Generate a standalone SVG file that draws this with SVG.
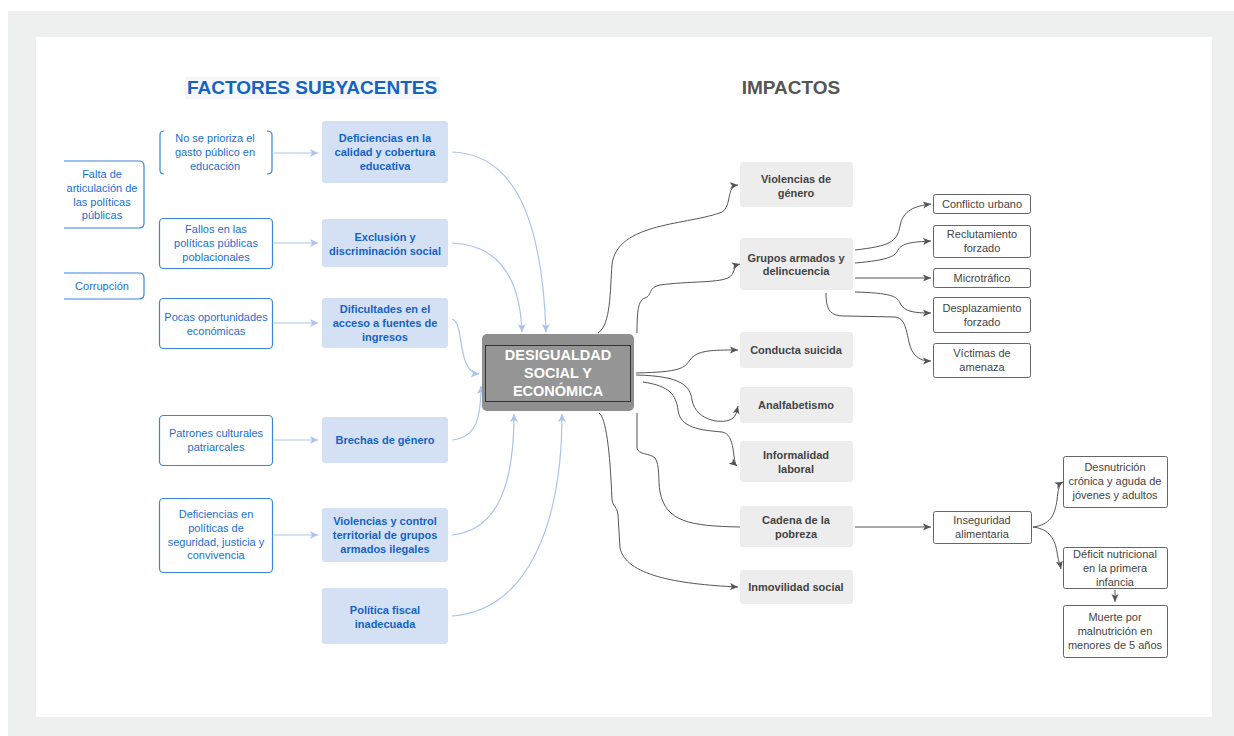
<svg xmlns="http://www.w3.org/2000/svg" width="1234" height="736" viewBox="0 0 1234 736">
<style>
text{font-family:"Liberation Sans",Arial,sans-serif;font-size:11px;text-anchor:middle}
.bt{fill:#1a6fd3}
.bb{fill:#1463c4;font-weight:bold}
.gb{fill:#444;font-weight:bold}
.gt{fill:#444}
.ob{fill:#fff;stroke:#3a84dc;stroke-width:1.2}
.mb{fill:#d4e1f5}
.ib{fill:#ededed}
.sb{fill:#fff;stroke:#666;stroke-width:1}
.bl{fill:none;stroke:#a9c5ee;stroke-width:1.2}
.dl{fill:none;stroke:#555;stroke-width:1}
.title{font-size:19px;font-weight:bold}
.ct{fill:#fff;font-weight:bold;font-size:14.5px}
</style>
<defs>
<marker id="ab" markerUnits="userSpaceOnUse" markerWidth="10" markerHeight="10" refX="8" refY="5" orient="auto">
<path d="M0,1 L8,5 L0,9 L2,5 Z" fill="#a9c5ee"/>
</marker>
<marker id="ad" markerUnits="userSpaceOnUse" markerWidth="10" markerHeight="10" refX="8" refY="5" orient="auto">
<path d="M0,1.5 L8,5 L0,8.5 L2,5 Z" fill="#555"/>
</marker>
</defs>
<rect x="8" y="11" width="1226" height="725" fill="#eef0ef"/>
<rect x="36" y="37" width="1176" height="680" fill="#fff"/>

<g id="titles">
<rect x="185" y="77" width="255" height="22" fill="#f5f7fb"/>
<text x="312" y="94" class="title" fill="#1463c4">FACTORES SUBYACENTES</text>
<text x="791" y="94" class="title" fill="#555">IMPACTOS</text>
</g>

<g id="connectors">
<path class="bl" d="M274,153 L318,153" marker-end="url(#ab)"/>
<path class="bl" d="M274,243 L318,243" marker-end="url(#ab)"/>
<path class="bl" d="M274,323 L318,323" marker-end="url(#ab)"/>
<path class="bl" d="M274,440 L318,440" marker-end="url(#ab)"/>
<path class="bl" d="M274,535 L318,535" marker-end="url(#ab)"/>
<path class="bl" d="M452,152 C515,154 542,220 546,332" marker-end="url(#ab)"/>
<path class="bl" d="M452,243 C500,245 520,280 522,332" marker-end="url(#ab)"/>
<path class="bl" d="M452,319 C465,322 456,372 479,374" marker-end="url(#ab)"/>
<path class="bl" d="M452,440 C475,438 481,420 481,386" marker-end="url(#ab)"/>
<path class="bl" d="M452,535 C500,530 514,480 514,414" marker-end="url(#ab)"/>
<path class="bl" d="M452,616 C530,610 562,520 562,414" marker-end="url(#ab)"/>

<path class="dl" d="M598,333 C611,325 610,290 612,265 C616,222 690,225 722,212 C732,206 726,186 738,185" marker-end="url(#ad)"/>
<path class="dl" d="M637,333 C637,312 638,300 645,298 C652,296 648,287 660,285 C690,281 716,283 728,278 C736,274 732,266 740,264" marker-end="url(#ad)"/>
<path class="dl" d="M636,373 C682,372 684,368 690,360 C697,350 712,350 738,350" marker-end="url(#ad)"/>
<path class="dl" d="M636,375 C682,376 690,386 692,400 C696,422 725,425 733,418 C737,414 737,410 738,406" marker-end="url(#ad)"/>
<path class="dl" d="M643,382 C670,386 676,395 678,410 C680,428 700,430 722,432 C736,434 732,462 737,466" marker-end="url(#ad)"/>
<path class="dl" d="M637,413 L637,448 C638,455 650,453 655,458 C660,465 658,480 660,492 C666,522 690,526 740,527"/>
<path class="dl" d="M599,413 C606,418 610,450 612,500 C613,507 617,506 618,515 L620,548 C626,575 675,584 738,587" marker-end="url(#ad)"/>

<path class="dl" d="M855,250 C890,246 897,242 900,226 C903,210 915,206 931,204" marker-end="url(#ad)"/>
<path class="dl" d="M855,263 C890,260 895,256 898,250 C902,243 912,242 931,241" marker-end="url(#ad)"/>
<path class="dl" d="M855,278 L931,278" marker-end="url(#ad)"/>
<path class="dl" d="M855,292 C890,293 897,296 900,303 C904,312 915,313 931,313" marker-end="url(#ad)"/>
<path class="dl" d="M826,293 C826,310 830,316 845,316 L895,317 C910,318 905,345 915,355 C920,360 925,361 931,361" marker-end="url(#ad)"/>
<path class="dl" d="M855,527 L931,527" marker-end="url(#ad)"/>
<path class="dl" d="M1033,527 C1050,525 1055,515 1057,500 C1058,490 1059,484 1063,482" marker-end="url(#ad)"/>
<path class="dl" d="M1033,527 C1050,529 1055,540 1057,552 C1058,560 1060,564 1061,569" marker-end="url(#ad)"/>
<path class="dl" d="M1115,590 L1115,602" marker-end="url(#ad)"/>
</g>

<g id="n-falta">
<path class="ob" d="M64,161 L139,161 Q144,161 144,166 L144,223 Q144,228 139,228 L64,228"/>
<text class="bt" x="102" y="178">Falta de</text>
<text class="bt" x="102" y="192">articulación de</text>
<text class="bt" x="102" y="206">las políticas</text>
<text class="bt" x="102" y="219">públicas</text>
</g>
<g id="n-corrupcion">
<path class="ob" d="M64,273 L139,273 Q144,273 144,278 L144,294 Q144,299 139,299 L64,299"/>
<text class="bt" x="102" y="290">Corrupción</text>
</g>
<g id="n-noprioriza">
<path class="ob" d="M164,131 Q160,131 160,135 L160,170 Q160,174 164,174"/>
<path class="ob" d="M267,131 Q272,131 272,135 L272,170 Q272,174 267,174"/>
<text class="bt" x="215" y="142">No se prioriza el</text>
<text class="bt" x="215" y="156">gasto público en</text>
<text class="bt" x="215" y="170">educación</text>
</g>
<g id="n-fallos">
<rect class="ob" x="159.5" y="218.5" width="113" height="50" rx="4"/>
<text class="bt" x="216" y="233">Fallos en las</text>
<text class="bt" x="216" y="247">políticas públicas</text>
<text class="bt" x="216" y="261">poblacionales</text>
</g>
<g id="n-pocas">
<rect class="ob" x="159.5" y="298.5" width="113" height="50" rx="4"/>
<text class="bt" x="216" y="321">Pocas oportunidades</text>
<text class="bt" x="216" y="335">económicas</text>
</g>
<g id="n-patrones">
<rect class="ob" x="159.5" y="415.5" width="113" height="50" rx="4"/>
<text class="bt" x="216" y="437">Patrones culturales</text>
<text class="bt" x="216" y="451">patriarcales</text>
</g>
<g id="n-defseg">
<rect class="ob" x="159.5" y="498.5" width="113" height="74" rx="4"/>
<text class="bt" x="216" y="518">Deficiencias en</text>
<text class="bt" x="216" y="532">políticas de</text>
<text class="bt" x="216" y="546">seguridad, justicia y</text>
<text class="bt" x="216" y="559">convivencia</text>
</g>

<g id="m-deficiencias">
<rect class="mb" x="322" y="121" width="126" height="62" rx="3"/>
<text class="bb" x="385" y="142">Deficiencias en la</text>
<text class="bb" x="385" y="156">calidad y cobertura</text>
<text class="bb" x="385" y="170">educativa</text>
</g>
<g id="m-exclusion">
<rect class="mb" x="322" y="219" width="126" height="48" rx="3"/>
<text class="bb" x="385" y="241">Exclusión y</text>
<text class="bb" x="385" y="255">discriminación social</text>
</g>
<g id="m-dificultades">
<rect class="mb" x="322" y="298" width="126" height="50" rx="3"/>
<text class="bb" x="385" y="313">Dificultades en el</text>
<text class="bb" x="385" y="327">acceso a fuentes de</text>
<text class="bb" x="385" y="341">ingresos</text>
</g>
<g id="m-brechas">
<rect class="mb" x="322" y="417" width="126" height="46" rx="3"/>
<text class="bb" x="385" y="444">Brechas de género</text>
</g>
<g id="m-violencias">
<rect class="mb" x="322" y="508" width="126" height="54" rx="3"/>
<text class="bb" x="385" y="525">Violencias y control</text>
<text class="bb" x="385" y="539">territorial de grupos</text>
<text class="bb" x="385" y="553">armados ilegales</text>
</g>
<g id="m-fiscal">
<rect class="mb" x="322" y="588" width="126" height="56" rx="3"/>
<text class="bb" x="385" y="614">Política fiscal</text>
<text class="bb" x="385" y="628">inadecuada</text>
</g>

<g id="center">
<rect x="482" y="334" width="152" height="77" rx="5" fill="#8f8f8f"/>
<rect x="485.5" y="345.5" width="145" height="56" fill="#959595" stroke="#333" stroke-width="1"/>
<text class="ct" x="558" y="360">DESIGUALDAD</text>
<text class="ct" x="558" y="378">SOCIAL Y</text>
<text class="ct" x="558" y="396">ECONÓMICA</text>
</g>

<g id="i-violencias">
<rect class="ib" x="740" y="162" width="113" height="45" rx="3"/>
<text class="gb" x="796" y="183">Violencias de</text>
<text class="gb" x="796" y="197">género</text>
</g>
<g id="i-grupos">
<rect class="ib" x="740" y="238" width="113" height="52" rx="3"/>
<text class="gb" x="796" y="262">Grupos armados y</text>
<text class="gb" x="796" y="275">delincuencia</text>
</g>
<g id="i-conducta">
<rect class="ib" x="740" y="332" width="113" height="36" rx="3"/>
<text class="gb" x="796" y="354">Conducta suicida</text>
</g>
<g id="i-analfabetismo">
<rect class="ib" x="740" y="387" width="113" height="36" rx="3"/>
<text class="gb" x="796" y="409">Analfabetismo</text>
</g>
<g id="i-informalidad">
<rect class="ib" x="740" y="441" width="113" height="41" rx="3"/>
<text class="gb" x="796" y="459">Informalidad</text>
<text class="gb" x="796" y="473">laboral</text>
</g>
<g id="i-cadena">
<rect class="ib" x="740" y="506" width="113" height="41" rx="3"/>
<text class="gb" x="796" y="524">Cadena de la</text>
<text class="gb" x="796" y="538">pobreza</text>
</g>
<g id="i-inmovilidad">
<rect class="ib" x="740" y="570" width="113" height="34" rx="3"/>
<text class="gb" x="796" y="591">Inmovilidad social</text>
</g>

<g id="s-conflicto">
<rect class="sb" x="933.5" y="194.5" width="97" height="19" rx="2"/>
<text class="gt" x="982" y="208">Conflicto urbano</text>
</g>
<g id="s-reclutamiento">
<rect class="sb" x="933.5" y="225.5" width="97" height="32" rx="2"/>
<text class="gt" x="982" y="238">Reclutamiento</text>
<text class="gt" x="982" y="252">forzado</text>
</g>
<g id="s-microtrafico">
<rect class="sb" x="933.5" y="268.5" width="97" height="19" rx="2"/>
<text class="gt" x="982" y="282">Microtráfico</text>
</g>
<g id="s-desplazamiento">
<rect class="sb" x="933.5" y="297.5" width="97" height="35" rx="2"/>
<text class="gt" x="982" y="312">Desplazamiento</text>
<text class="gt" x="982" y="326">forzado</text>
</g>
<g id="s-victimas">
<rect class="sb" x="933.5" y="343.5" width="97" height="34" rx="2"/>
<text class="gt" x="982" y="357">Víctimas de</text>
<text class="gt" x="982" y="371">amenaza</text>
</g>
<g id="s-inseguridad">
<rect class="sb" x="933.5" y="511.5" width="98" height="32" rx="2"/>
<text class="gt" x="982" y="524">Inseguridad</text>
<text class="gt" x="982" y="538">alimentaria</text>
</g>
<g id="s-desnutricion">
<rect class="sb" x="1063.5" y="456.5" width="104" height="51" rx="2"/>
<text class="gt" x="1115" y="471">Desnutrición</text>
<text class="gt" x="1115" y="485">crónica y aguda de</text>
<text class="gt" x="1115" y="499">jóvenes y adultos</text>
</g>
<g id="s-deficit">
<rect class="sb" x="1063.5" y="547.5" width="104" height="41" rx="2"/>
<text class="gt" x="1115" y="558">Déficit nutricional</text>
<text class="gt" x="1115" y="572">en la primera</text>
<text class="gt" x="1115" y="586">infancia</text>
</g>
<g id="s-muerte">
<rect class="sb" x="1063.5" y="605.5" width="104" height="52" rx="2"/>
<text class="gt" x="1115" y="621">Muerte por</text>
<text class="gt" x="1115" y="635">malnutrición en</text>
<text class="gt" x="1115" y="649">menores de 5 años</text>
</g>
</svg>
